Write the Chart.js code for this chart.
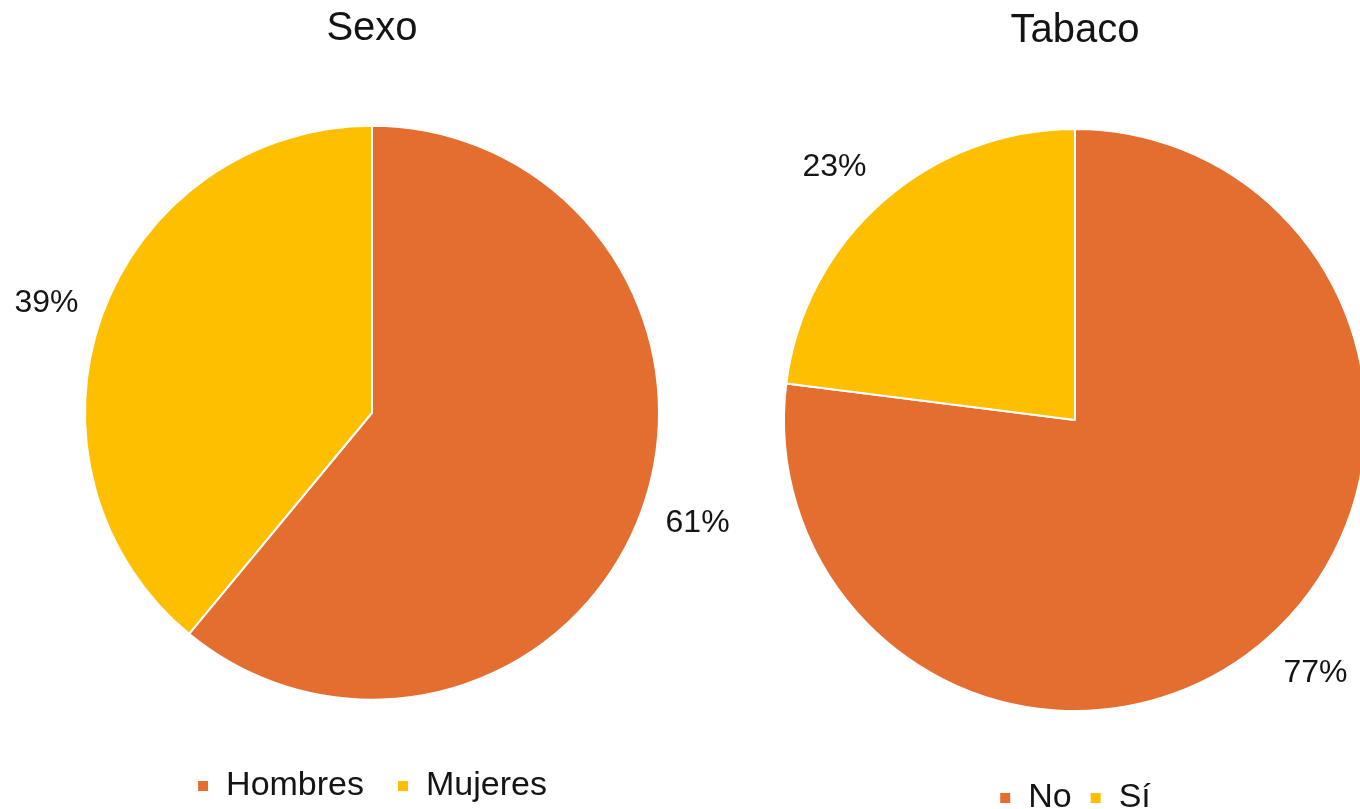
<!DOCTYPE html>
<html lang="es">
<head>
<meta charset="utf-8">
<title>Sexo y Tabaco</title>
<script src="https://cdn.jsdelivr.net/npm/chart.js@4/dist/chart.umd.min.js"></script>
<style>
  html, body { margin: 0; padding: 0; background: #ffffff; }
  body { width: 1360px; height: 809px; overflow: hidden; position: relative; }
  canvas { position: absolute; top: 0; }
  #sexo { left: 0; }
  #tabaco { left: 744px; }
</style>
</head>
<body>
<canvas id="sexo" width="744" height="813"></canvas>
<canvas id="tabaco" width="662" height="825"></canvas>
<script>
// Datos
const sexoCategorias = ['Hombres', 'Mujeres'];
const sexoValores = [61, 39];
const tabacoCategorias = ['No', 'Sí'];
const tabacoValores = [77, 23];

const NARANJA = '#E46D30';
const AMARILLO = '#FDBF00';
const FUENTE = '"Liberation Sans", Arial, Helvetica, sans-serif';
const TEXTO = '#141414';

Chart.defaults.font.family = FUENTE;
Chart.defaults.color = TEXTO;

// Etiquetas de porcentaje fuera de cada sector: la caja del texto se apoya
// en un círculo algo mayor que la tarta, en la dirección del ángulo medio.
const etiquetasExteriores = {
  id: 'etiquetasExteriores',
  afterDatasetsDraw(chart, args, opts) {
    const ctx = chart.ctx;
    const meta = chart.getDatasetMeta(0);
    const valores = chart.data.datasets[0].data;
    const total = valores.reduce((a, b) => a + b, 0);
    ctx.save();
    ctx.font = '32px ' + FUENTE;
    ctx.fillStyle = TEXTO;
    ctx.textAlign = 'center';
    ctx.textBaseline = 'middle';
    meta.data.forEach((arc, i) => {
      const p = arc.getProps(['x', 'y', 'startAngle', 'endAngle', 'outerRadius'], true);
      const mid = (p.startAngle + p.endAngle) / 2;
      const c = Math.cos(mid), s = Math.sin(mid);
      const m = Math.max(Math.abs(c), Math.abs(s));
      const texto = Math.round(valores[i] / total * 100) + '%';
      const w = ctx.measureText(texto).width;
      const h = 24;
      const d = p.outerRadius + opts.distancia;
      const x = p.x + c * d + (c / m) * w / 2;
      const y = p.y + s * d + (s / m) * h / 2;
      ctx.fillText(texto, x, y);
    });
    ctx.restore();
  }
};

function crearTarta(id, titulo, categorias, valores, cfg) {
  return new Chart(document.getElementById(id), {
    type: 'pie',
    data: {
      labels: categorias,
      datasets: [{
        data: valores,
        backgroundColor: [NARANJA, AMARILLO],
        borderColor: '#ffffff',
        borderWidth: 2
      }]
    },
    plugins: [etiquetasExteriores],
    options: {
      responsive: false,
      animation: false,
      devicePixelRatio: 1,
      layout: { padding: cfg.margen },
      plugins: {
        tooltip: { enabled: false },
        title: {
          display: true,
          text: titulo,
          color: TEXTO,
          font: { size: 40, weight: 'normal', family: FUENTE },
          padding: cfg.tituloPadding
        },
        legend: {
          display: true,
          position: 'bottom',
          labels: {
            boxWidth: 12,
            boxHeight: 12,
            padding: cfg.leyendaPadding,
            color: TEXTO,
            font: { size: 34, family: FUENTE }
          }
        },
        etiquetasExteriores: { distancia: cfg.distancia }
      }
    }
  });
}

crearTarta('sexo', 'Sexo', sexoCategorias, sexoValores, {
  margen: { left: 84, right: 84, top: 0, bottom: 0 },
  tituloPadding: { top: 5, bottom: 36.5 },
  leyendaPadding: 33,
  distancia: 25
});

crearTarta('tabaco', 'Tabaco', tabacoCategorias, tabacoValores, {
  margen: { left: 39, right: 39, top: 0, bottom: 0 },
  tituloPadding: { top: 7, bottom: 22 },
  leyendaPadding: 18,
  distancia: 30
});
</script>
</body>
</html>
